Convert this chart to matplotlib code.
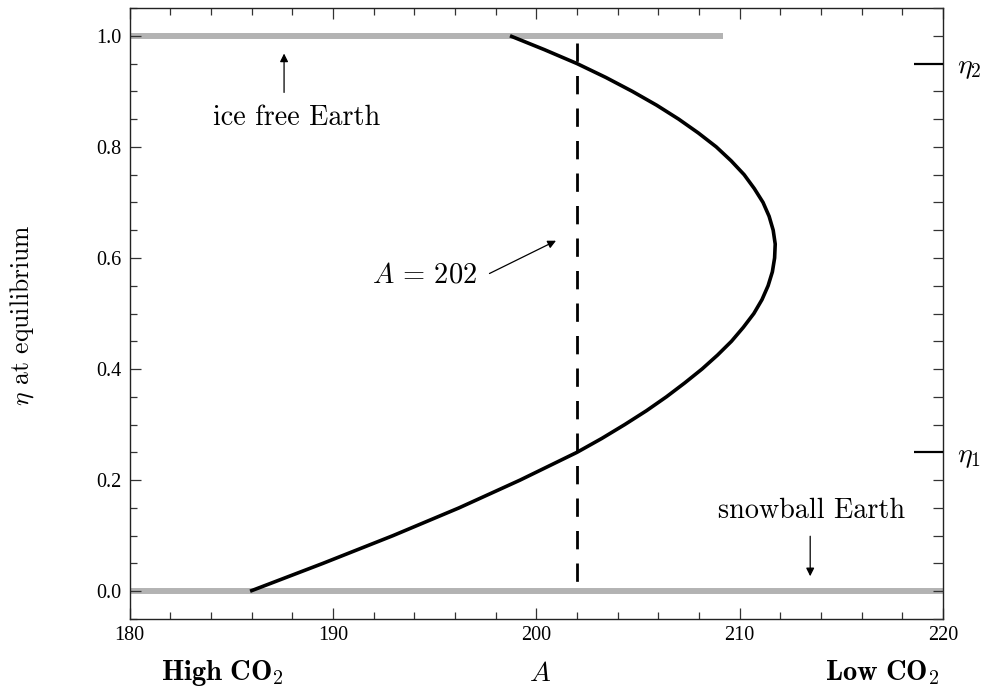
import matplotlib
matplotlib.use("Agg")
import matplotlib.pyplot as plt
from matplotlib.ticker import MultipleLocator
import matplotlib.transforms as mtransforms

plt.rcParams['mathtext.fontset'] = 'cm'
plt.rcParams['lines.scale_dashes'] = False
plt.rcParams['axes.unicode_minus'] = False

# Equilibrium curve (eta, A)
eta_curve = [0.000, 0.050, 0.100, 0.150, 0.200, 0.250, 0.275, 0.300, 0.325, 0.350,
             0.375, 0.400, 0.425, 0.450, 0.475, 0.500, 0.525, 0.550, 0.575, 0.600,
             0.625, 0.650, 0.675, 0.700, 0.725, 0.750, 0.775, 0.800, 0.825, 0.850,
             0.875, 0.900, 0.925, 0.950, 0.975, 1.000]
A_curve = [185.93, 189.50, 192.95, 196.20, 199.20, 202.00, 203.22, 204.35, 205.42, 206.40,
           207.30, 208.15, 208.91, 209.60, 210.18, 210.70, 211.10, 211.40, 211.61, 211.72,
           211.75, 211.65, 211.45, 211.15, 210.72, 210.22, 209.58, 208.85, 207.97, 207.00,
           205.92, 204.72, 203.42, 202.00, 200.40, 198.71]

# Stable branches (grey)
ice_free_A = [180.0, 209.2]
ice_free_eta = [1.0, 1.0]
snowball_A = [180.0, 220.0]
snowball_eta = [0.0, 0.0]

# Dashed line A = 202
dash_A = [202.0, 202.0]
dash_eta = [0.987, 0.016]

eta_marks = [0.25, 0.95]
eta_mark_labels = [r'$\eta_1$', r'$\eta_2$']

xticks = [180, 190, 200, 210, 220]
yticks = [0.0, 0.2, 0.4, 0.6, 0.8, 1.0]

fig = plt.figure(figsize=(9.89, 6.96), dpi=100)
ax = fig.add_axes([129.5/989, (696-619)/696, (943-129.5)/989, (619-8)/696])

grey = '#b3b3b3'
ax.plot(ice_free_A, ice_free_eta, color=grey, lw=4.3, solid_capstyle='butt', zorder=1)
ax.plot(snowball_A, snowball_eta, color=grey, lw=4.3, solid_capstyle='butt', zorder=1)
ax.plot(A_curve, eta_curve, color='k', lw=2.6, solid_capstyle='butt', solid_joinstyle='round', zorder=3)
ax.plot(dash_A, dash_eta, color='k', lw=2.0, dashes=(13.2, 10.2), zorder=3)

ax.set_xlim(180, 220)
ax.set_ylim(-0.05, 1.05)
ax.set_xticks(xticks)
ax.set_yticks(yticks)
ax.set_xticklabels([str(v) for v in xticks])
ax.set_yticklabels(['%.1f' % v for v in yticks])
ax.xaxis.set_minor_locator(MultipleLocator(2))
ax.yaxis.set_minor_locator(MultipleLocator(0.05))
ax.tick_params(axis='x', which='both', direction='in', top=True, bottom=True)
ax.tick_params(axis='y', which='both', direction='in', left=True, right=False)
ax.tick_params(which='major', length=7.7, width=0.9, color='#333333')
ax.tick_params(which='minor', length=4.8, width=0.9, color='#333333')
ax.tick_params(axis='x', which='major', pad=5)
ax.tick_params(axis='y', which='major', pad=6)
for lab in ax.get_xticklabels() + ax.get_yticklabels():
    lab.set_fontfamily('Liberation Serif')
    lab.set_fontsize(14.5)
for sp in ax.spines.values():
    sp.set_linewidth(1.0)
    sp.set_color('#222222')

# right axis with eta marks
ax2 = ax.twinx()
ax2.set_ylim(-0.05, 1.05)
ax2.set_yticks(eta_marks)
ax2.set_yticklabels(eta_mark_labels)
ax2.yaxis.set_minor_locator(MultipleLocator(0.05))
ax2.tick_params(axis='y', which='major', direction='in', length=21, width=1.6, color='k', pad=10, labelsize=20)
ax2.tick_params(axis='y', which='minor', direction='in', length=7.2, width=0.9, color='#333333')
for sp in ax2.spines.values():
    sp.set_visible(False)

tf = 'cmr10'
# axis labels
fig.text(22/989, 1 - 315/696, r'$\eta$ at equilibrium', fontfamily=tf, fontsize=18.5,
         rotation=90, ha='center', va='center')
trans = mtransforms.blended_transform_factory(ax.transData, fig.transFigure)
ax.text(200.2, (696-673)/696, r'$A$', transform=trans, ha='center', va='center', fontsize=20)
ax.text(184.55, (696-673)/696, r'$\mathbf{High\ CO}_2$', transform=trans, ha='center', va='center', fontsize=20.5)
ax.text(217.0, (696-673)/696, r'$\mathbf{Low\ CO}_2$', transform=trans, ha='center', va='center', fontsize=20.5)

# annotations
arrow = dict(arrowstyle='-|>', lw=0.9, color='k', mutation_scale=12, shrinkA=0, shrinkB=0)
ax.text(188.2, 0.839, 'ice free Earth', fontfamily=tf, fontsize=20.3, ha='center', va='baseline')
ax.annotate('', xy=(187.6, 0.968), xytext=(187.6, 0.898), arrowprops=arrow)
ax.text(213.52, 0.1315, 'snowball Earth', fontfamily=tf, fontsize=20.3, ha='center', va='baseline')
ax.annotate('', xy=(213.47, 0.027), xytext=(213.47, 0.099), arrowprops=arrow)
ax.text(194.53, 0.57, r'$A\,=\,202$', fontsize=20.5, ha='center', va='center')
ax.annotate('', xy=(200.97, 0.631), xytext=(197.70, 0.572), arrowprops=arrow)

fig.savefig('out.png', dpi=100)
